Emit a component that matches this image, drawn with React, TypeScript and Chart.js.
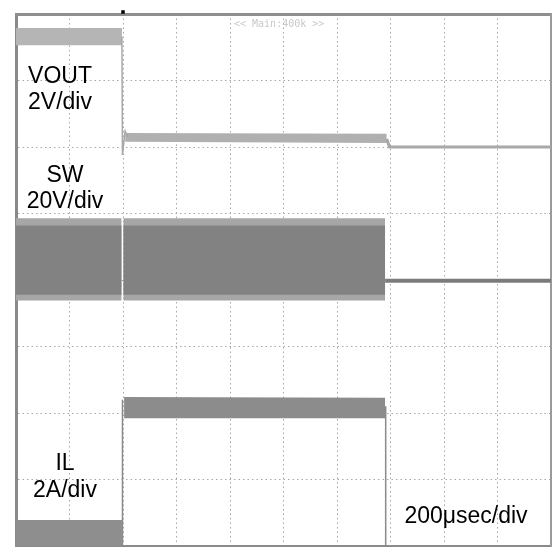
import React, { useEffect, useRef } from "react";
import { Chart, registerables } from "chart.js";

Chart.register(...registerables);

// ---- data (units: oscilloscope divisions) ----
const X_DIVISIONS = [0, 10];
const Y_DIVISIONS = [0, 8];

const VOUT_HIGH_X = [0, 1.98];
const VOUT_HIGH_TOP = [7.79, 7.79];
const VOUT_HIGH_BOTTOM = [7.53, 7.53];
const VOUT_STEP_X = [1.98, 1.99, 2.04, 2.09];
const VOUT_STEP_Y = [7.66, 5.88, 6.24, 6.15];
const VOUT_LOW_X = [2.04, 6.93];
const VOUT_LOW_TOP = [6.21, 6.2];
const VOUT_LOW_BOTTOM = [6.08, 6.06];
const VOUT_OFF_X = [6.93, 6.98, 10];
const VOUT_OFF_Y = [6.12, 6.0, 6.0];

const SW_A_X = [0, 1.975];
const SW_B_X = [2.005, 6.9];
const SW_OUTER_TOP = [4.93, 4.93];
const SW_OUTER_BOTTOM = [3.69, 3.69];
const SW_CORE_TOP = [4.82, 4.82];
const SW_CORE_BOTTOM = [3.78, 3.78];
const SW_OFF_X = [6.9, 10];
const SW_OFF_Y = [3.99, 3.99];

const IL_LOW_X = [0, 1.98];
const IL_LOW_TOP = [0.39, 0.39];
const IL_RISE_X = [1.99, 1.99];
const IL_RISE_Y = [0, 2.2];
const IL_HIGH_X = [2.02, 6.9];
const IL_HIGH_TOP = [2.24, 2.23];
const IL_HIGH_BOTTOM = [1.92, 1.92];
const IL_FALL_X = [6.91, 6.91];
const IL_FALL_Y = [2.1, 0];

const TRIGGER_X = [2];
const TRIGGER_Y = [8.03];

const LABEL_TEXTS = ["VOUT", "2V/div", "SW", "20V/div", "IL", "2A/div", "200\u03BCsec/div"];
const HEADER_TEXT = "<< Main:400k >>";

// ---- layout / styles ----
const LABEL_POS: [number, number][] = [
  [60, 83],
  [60, 109],
  [65, 182],
  [65, 208],
  [65, 470],
  [65, 497],
  [466, 523],
];

const pts = (xs: number[], ys: number[]) => xs.map((x, i) => ({ x, y: ys[i] }));

const line = (xs: number[], ys: number[], color: string, width: number) => ({
  data: pts(xs, ys),
  borderColor: color,
  borderWidth: width,
  pointRadius: 0,
  fill: false,
  tension: 0,
});

const band = (xs: number[], top: number[], bottom: number[], color: string) => [
  {
    data: pts(xs, bottom),
    borderColor: "rgba(0,0,0,0)",
    borderWidth: 0,
    pointRadius: 0,
    fill: false,
  },
  {
    data: pts(xs, top),
    borderColor: "rgba(0,0,0,0)",
    borderWidth: 0,
    pointRadius: 0,
    fill: "-1",
    backgroundColor: color,
  },
];

const textPlugin = {
  id: "scopeText",
  afterDraw(chart: any) {
    const ctx = chart.ctx;
    ctx.save();
    ctx.fillStyle = "#000";
    ctx.textAlign = "center";
    ctx.textBaseline = "alphabetic";
    ctx.font = '23px "Liberation Sans", Arial, sans-serif';
    LABEL_TEXTS.forEach((t, i) => {
      ctx.fillText(t, LABEL_POS[i][0], LABEL_POS[i][1]);
    });
    ctx.font = '10px "DejaVu Sans Mono", monospace';
    ctx.fillStyle = "#c8c8c8";
    ctx.textAlign = "left";
    ctx.fillText(HEADER_TEXT, 234, 27);
    ctx.restore();
  },
};

export default function App() {
  const ref = useRef<HTMLCanvasElement | null>(null);

  useEffect(() => {
    if (!ref.current) return;
    const datasets: any[] = [
      { data: pts(TRIGGER_X, TRIGGER_Y), pointStyle: "rect", pointRadius: 2.5, pointBackgroundColor: "#000", pointBorderWidth: 0, showLine: false, clip: false },
      line(VOUT_STEP_X, VOUT_STEP_Y, "#a8a8a8", 1.5),
      line(VOUT_OFF_X, VOUT_OFF_Y, "#a8a8a8", 3),
      line(SW_OFF_X, SW_OFF_Y, "#7c7c7c", 4),
      line(IL_RISE_X, IL_RISE_Y, "#8a8a8a", 1.5),
      line(IL_FALL_X, IL_FALL_Y, "#8a8a8a", 1.5),
      ...band(VOUT_HIGH_X, VOUT_HIGH_TOP, VOUT_HIGH_BOTTOM, "#b5b5b5"),
      ...band(VOUT_LOW_X, VOUT_LOW_TOP, VOUT_LOW_BOTTOM, "#b0b0b0"),
      ...band(SW_A_X, SW_CORE_TOP, SW_CORE_BOTTOM, "#828282"),
      ...band(SW_B_X, SW_CORE_TOP, SW_CORE_BOTTOM, "#828282"),
      ...band(SW_A_X, SW_OUTER_TOP, SW_OUTER_BOTTOM, "#a6a6a6"),
      ...band(SW_B_X, SW_OUTER_TOP, SW_OUTER_BOTTOM, "#a6a6a6"),
      ...band(IL_HIGH_X, IL_HIGH_TOP, IL_HIGH_BOTTOM, "#8c8c8c"),
      {
        data: pts(IL_LOW_X, IL_LOW_TOP),
        borderColor: "rgba(0,0,0,0)",
        borderWidth: 0,
        pointRadius: 0,
        fill: "origin",
        backgroundColor: "#8e8e8e",
      },
    ];

    const chart = new Chart(ref.current, {
      type: "line",
      data: { datasets },
      plugins: [textPlugin],
      options: {
        animation: false,
        responsive: true,
        maintainAspectRatio: false,
        layout: { padding: { left: 16, top: 14, right: 4, bottom: 4 } },
        plugins: { legend: { display: false }, tooltip: { enabled: false } },
        scales: {
          x: {
            type: "linear",
            min: X_DIVISIONS[0],
            max: X_DIVISIONS[1],
            ticks: { display: false, stepSize: 1 },
            grid: { color: "#a8a8a8", lineWidth: 1, drawTicks: false },
            border: { display: true, color: "#8a8a8a", width: 2, dash: [1.5, 3] },
          },
          y: {
            type: "linear",
            min: Y_DIVISIONS[0],
            max: Y_DIVISIONS[1],
            ticks: { display: false, stepSize: 1 },
            grid: { color: "#a8a8a8", lineWidth: 1, drawTicks: false },
            border: { display: true, color: "#8a8a8a", width: 3, dash: [1.5, 3] },
          },
          x2: {
            type: "linear",
            position: "top",
            min: X_DIVISIONS[0],
            max: X_DIVISIONS[1],
            ticks: { display: false },
            grid: { display: false, drawTicks: false },
            border: { display: true, color: "#8f8f8f", width: 3 },
          },
          y2: {
            type: "linear",
            position: "right",
            min: Y_DIVISIONS[0],
            max: Y_DIVISIONS[1],
            ticks: { display: false },
            grid: { display: false, drawTicks: false },
            border: { display: true, color: "#9a9a9a", width: 2 },
          },
        },
      } as any,
    });
    return () => chart.destroy();
  }, []);

  return (
    <div style={{ position: "absolute", left: 0, top: 0, width: 555, height: 550, background: "#fff" }}>
      <canvas ref={ref} />
    </div>
  );
}
